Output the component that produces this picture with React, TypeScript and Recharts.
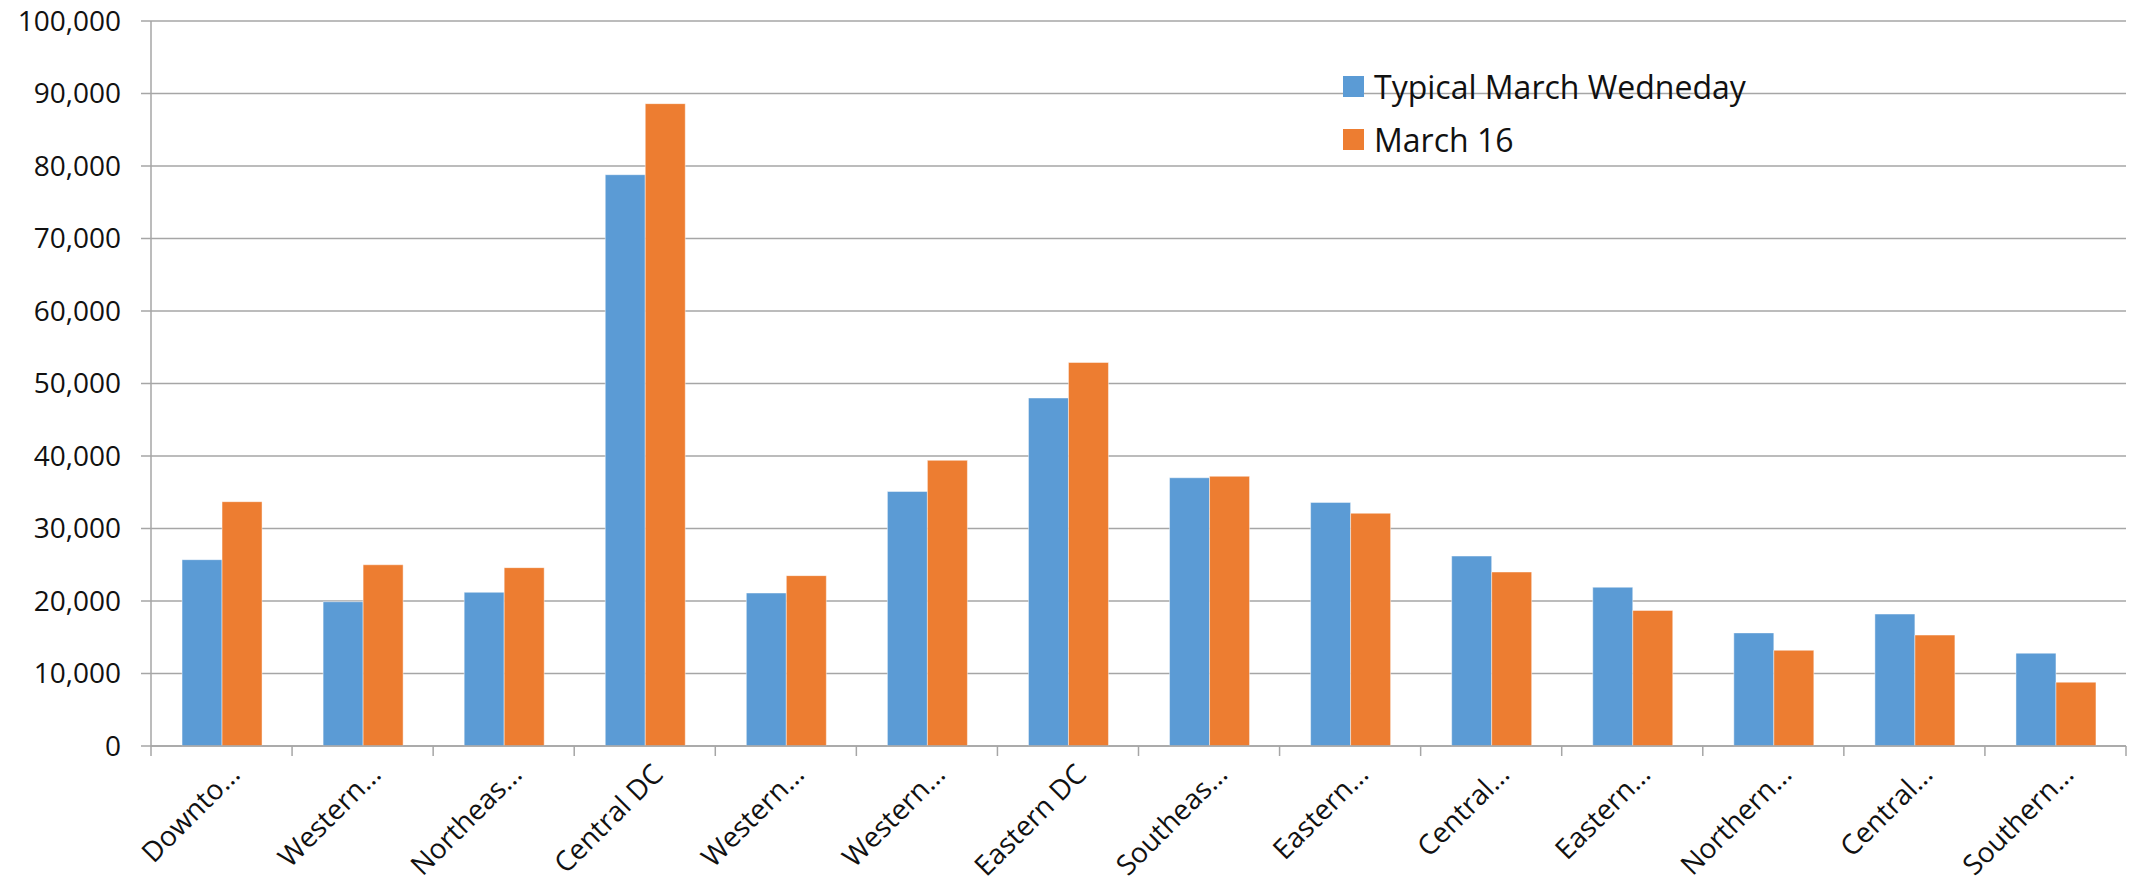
import { BarChart, Bar, XAxis, YAxis, CartesianGrid } from "recharts";

const regions = [
  "Downto…",
  "Western…",
  "Northeas…",
  "Central DC",
  "Western…",
  "Western…",
  "Eastern DC",
  "Southeas…",
  "Eastern…",
  "Central…",
  "Eastern…",
  "Northern…",
  "Central…",
  "Southern…",
];

const typicalWednesday = [25700, 19900, 21200, 78800, 21100, 35100, 48000, 37000, 33600, 26200, 21900, 15600, 18200, 12800];
const march16 = [33700, 25000, 24600, 88600, 23500, 39400, 52900, 37200, 32100, 24000, 18700, 13200, 15300, 8800];

const yTicks = [0, 10000, 20000, 30000, 40000, 50000, 60000, 70000, 80000, 90000, 100000];

const BLUE = "#5b9bd5";
const ORANGE = "#ed7d31";
const AXIS = "#a6a6a6";
const FONT = "'Open Sans', 'DejaVu Sans', sans-serif";

const data = regions.map((r, i) => ({
  region: r,
  typical: typicalWednesday[i],
  m16: march16[i],
}));

const legendItems = [
  { label: "Typical March Wedneday", color: BLUE },
  { label: "March 16", color: ORANGE },
];

// Excel puts the x ticks between categories, so draw them from the band offset
function RegionTick(props: any) {
  const { x, y, payload, index } = props;
  const half = payload.offset ?? 0;
  const last = index === regions.length - 1;
  return (
    <g>
      <line x1={x - half} x2={x - half} y1={y} y2={y + 10} stroke={AXIS} strokeWidth={1.5} />
      {last && <line x1={x + half} x2={x + half} y1={y} y2={y + 10} stroke={AXIS} strokeWidth={1.5} />}
      <g transform={`translate(${x + 20},${y + 30})`}>
        <text
          x={0}
          y={0}
          textAnchor="end"
          transform="rotate(-45)"
          fill="#111"
          fontSize={28}
          fontFamily={FONT}
        >
          {payload.value}
        </text>
      </g>
    </g>
  );
}

export default function App() {
  return (
    <div style={{ position: "absolute", left: 0, top: 0, background: "#fff" }}>
      <BarChart
        width={2131}
        height={888}
        data={data}
        margin={{ top: 21, right: 5, bottom: 0, left: 0 }}
        barCategoryGap="22%"
        barGap={0}
      >
        <CartesianGrid vertical={false} stroke={AXIS} strokeWidth={1.5} />
        <XAxis
          dataKey="region"
          height={142}
          interval={0}
          axisLine={{ stroke: AXIS, strokeWidth: 1.5 }}
          tickLine={false}
          tickSize={0}
          tickMargin={0}
          tick={<RegionTick />}
        />
        <YAxis
          width={151}
          domain={[0, 100000]}
          ticks={yTicks}
          interval={0}
          tickFormatter={(v: number) => v.toLocaleString("en-US")}
          axisLine={{ stroke: AXIS, strokeWidth: 1.5 }}
          tickLine={{ stroke: AXIS, strokeWidth: 1.5 }}
          tickSize={10}
          tickMargin={20}
          tick={{ fill: "#111", fontSize: 28, fontFamily: FONT }}
        />
        <Bar
          dataKey="typical"
          name="Typical March Wedneday"
          fill={BLUE}
          stroke="#ffffff"
          strokeOpacity={0.45}
          strokeWidth={1}
          isAnimationActive={false}
        />
        <Bar
          dataKey="m16"
          name="March 16"
          fill={ORANGE}
          stroke="#ffffff"
          strokeOpacity={0.45}
          strokeWidth={1}
          isAnimationActive={false}
        />
      </BarChart>
      <div
        style={{
          position: "absolute",
          left: 1343,
          top: 60,
          fontFamily: FONT,
          fontSize: 32,
          color: "#111",
        }}
      >
        {legendItems.map((it) => (
          <div key={it.label} style={{ display: "flex", alignItems: "center", height: 53 }}>
            <span style={{ width: 21, height: 21, background: it.color, marginRight: 10 }} />
            <span>{it.label}</span>
          </div>
        ))}
      </div>
    </div>
  );
}
